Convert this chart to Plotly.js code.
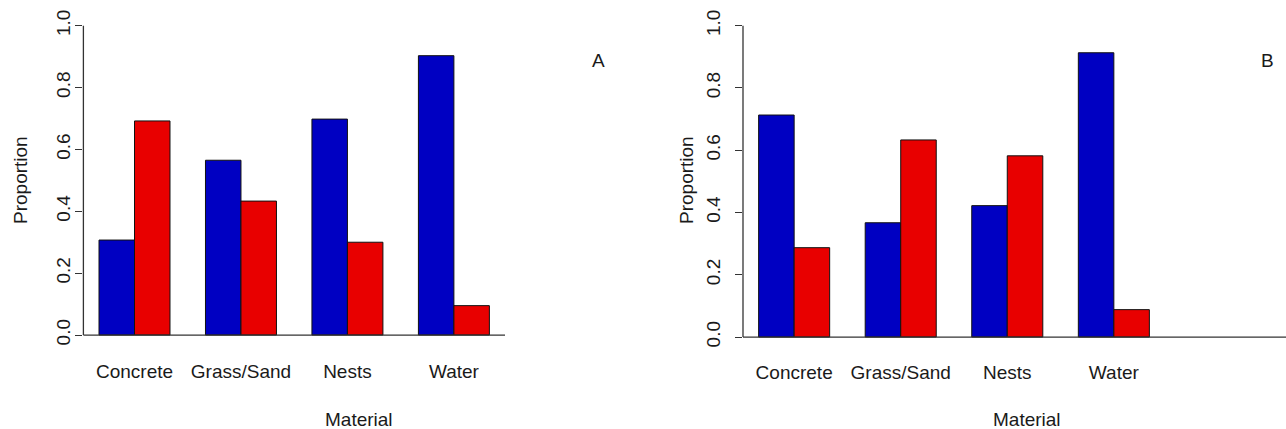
<!DOCTYPE html>
<html>
<head>
<meta charset="utf-8">
<script src="https://cdn.plot.ly/plotly-3.0.1.min.js"></script>
<style>
  html, body { margin: 0; padding: 0; background: #ffffff; }
  #chart { width: 1286px; height: 429px; }
</style>
</head>
<body>
<div id="chart"></div>
<script>
// Proportion of each material, two groups per panel
const materials = ["Concrete", "Grass/Sand", "Nests", "Water"];
const panelA_blue = [0.307, 0.565, 0.698, 0.903];
const panelA_red  = [0.692, 0.433, 0.300, 0.095];
const panelB_blue = [0.713, 0.367, 0.422, 0.913];
const panelB_red  = [0.287, 0.633, 0.582, 0.088];
const yTickVals = [0, 0.2, 0.4, 0.6, 0.8, 1.0];
const yTickText = ["0.0", "0.2", "0.4", "0.6", "0.8", "1.0"];

const W = 1286, H = 429;
const BLUE = "#0000c2", RED = "#e80000";
const FONT = "Liberation Sans, Arial, sans-serif";
const TXT = "#1a1a1a";
const FS = 19;

function bars(y, color, xa, ya) {
  return {
    type: "bar", x: materials, y: y, xaxis: xa, yaxis: ya,
    marker: { color: color, line: { color: "#111", width: 1 } },
    hoverinfo: "x+y", showlegend: false
  };
}

const data = [
  bars(panelA_blue, BLUE, "x", "y"),
  bars(panelA_red, RED, "x", "y"),
  bars(panelB_blue, BLUE, "x2", "y2"),
  bars(panelB_red, RED, "x2", "y2")
];

function xAxis(left, right, anchor, standoff) {
  return {
    domain: [left / W, right / W], anchor: anchor, type: "category",
    categoryorder: "array", categoryarray: materials,
    range: [-0.48, 3.48], showline: false, showgrid: false, zeroline: false,
    ticks: "", ticklabelstandoff: standoff,
    tickfont: { family: FONT, size: FS, color: TXT }, fixedrange: true
  };
}
function yAxis(top, bottom, anchor, standoff) {
  return {
    domain: [1 - bottom / H, 1 - top / H], anchor: anchor, range: [-0.04, 1.04],
    tickmode: "array", tickvals: yTickVals, ticktext: yTickText,
    ticks: "outside", ticklen: 7, tickwidth: 1, tickcolor: "#333",
    tickangle: -90, ticklabelstandoff: standoff,
    showline: false, showgrid: false, zeroline: false,
    tickfont: { family: FONT, size: FS, color: TXT }, fixedrange: true
  };
}

const axisLine = { color: "#333", width: 1.3 };
const shapes = [
  // panel A frame lines
  { type: "line", xref: "x domain", yref: "y", x0: 0, x1: 0, y0: 0, y1: 1, line: axisLine },
  { type: "line", xref: "x domain", yref: "y", x0: 0, x1: 1, y0: 0, y1: 0, line: axisLine },
  // panel B frame lines
  { type: "line", xref: "x2 domain", yref: "y2", x0: 0, x1: 0, y0: 0, y1: 1, line: axisLine },
  { type: "line", xref: "paper", yref: "y2", x0: 743 / W, x1: 1, y0: 0, y1: 0, line: axisLine }
];

function label(text, px, py, angle) {
  return {
    text: text, xref: "paper", yref: "paper", x: px / W, y: 1 - py / H,
    xanchor: "center", yanchor: "middle", showarrow: false, textangle: angle || 0,
    font: { family: FONT, size: FS, color: TXT }
  };
}

const annotations = [
  label("Proportion", 20, 180, -90),
  label("Material", 359, 419, 0),
  label("A", 598, 60, 0),
  label("Proportion", 686, 180, -90),
  label("Material", 1027, 419, 0),
  label("B", 1267, 60, 0)
];

const layout = {
  width: W, height: H,
  margin: { l: 0, r: 0, t: 0, b: 0 },
  paper_bgcolor: "#ffffff", plot_bgcolor: "#ffffff",
  barmode: "group", bargap: 1 / 3, bargroupgap: 0,
  xaxis: xAxis(83.4, 505, "y", 11),
  yaxis: yAxis(13.3, 347.4, "x", -2),
  xaxis2: xAxis(743, 1165, "y2", 9),
  yaxis2: yAxis(13.2, 349.5, "x2", 7),
  shapes: shapes, annotations: annotations,
  font: { family: FONT, color: TXT }
};

Plotly.newPlot("chart", data, layout, { displayModeBar: false, staticPlot: true });
</script>
</body>
</html>
